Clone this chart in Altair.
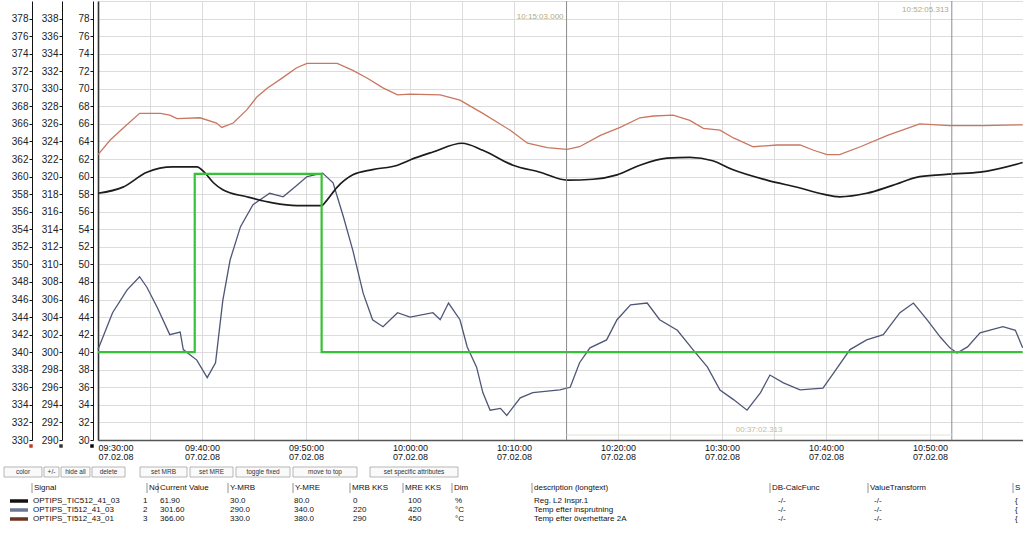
import altair as alt
import pandas as pd

FONT = "Liberation Sans"
BASE = pd.Timestamp("2008-02-07 09:30:00")

# ---------------- data (minutes after 09:30, values in own units) ----------------
# Signal 1: OPTIPS_TIC512_41_03 (%), black
BLACK_MIN = [0, 2.4, 4.7, 7.2, 9.5, 10.3, 11.1, 12.0, 14.3, 16.8, 19.1, 21.5, 22.0, 23.0, 24.5,
             26.4, 28.8, 30.0, 32.2, 35.0, 37.0, 39.9, 42.5, 45.1, 47.6, 49.9, 52.1, 54.7, 56.9,
             59.1, 61.0, 64.3, 67.5, 69.7, 71.3, 73.9, 76.4, 79.0, 82.2, 84.8, 88.9]
BLACK_VAL = [58.1, 58.8, 60.5, 61.1, 61.1, 60.4, 59.3, 58.5, 57.7, 57.0, 56.7, 56.7, 57.3, 58.8, 60.2,
             60.8, 61.3, 61.9, 62.8, 63.8, 63.0, 61.3, 60.5, 59.6, 59.7, 60.2, 61.3, 62.1, 62.2,
             61.8, 60.8, 59.6, 58.7, 58.0, 57.7, 58.1, 59.0, 60.0, 60.3, 60.5, 61.6]

# Signal 2: OPTIPS_TI512_41_03 (°C), blue-grey
BLUE_MIN = [0, 1.4, 2.8, 4.0, 4.7, 5.7, 6.9, 7.9, 8.2, 9.5, 10.5, 11.3, 12.0, 12.7, 13.7,
            14.9, 16.5, 17.8, 19.1, 20.1, 21.6, 22.6, 23.6, 24.5, 25.5, 26.4, 27.4, 28.8, 30.0,
            32.2, 32.9, 33.7, 34.8, 35.5, 36.4, 37.0, 37.7, 38.7, 39.3, 40.6, 41.8, 44.4, 45.4,
            46.3, 47.3, 48.9, 49.9, 51.2, 52.8, 54.0, 55.7, 57.2, 58.6, 59.8, 61.1, 62.4, 63.7,
            64.6, 65.9, 67.5, 69.7, 70.7, 72.3, 73.9, 75.5, 77.1, 78.4, 79.7, 81.0, 81.9, 82.6,
            83.6, 84.8, 87.0, 88.2, 88.9]
BLUE_VAL = [300.3, 304.5, 307.1, 308.6, 307.4, 305.1, 302.0, 302.3, 300.3, 299.1, 297.1, 298.8, 305.9, 310.5, 314.3,
            316.8, 318.1, 317.7, 319.0, 320.0, 320.4, 319.3, 315.4, 311.6, 306.7, 303.7, 302.9, 304.5, 304.0,
            304.5, 303.7, 305.6, 303.7, 300.6, 298.3, 295.4, 293.4, 293.6, 292.8, 294.8, 295.4, 295.7, 296.0,
            298.8, 300.5, 301.4, 303.7, 305.4, 305.6, 303.7, 302.5, 300.3, 298.3, 295.7, 294.6, 293.4, 295.4,
            297.4, 296.5, 295.7, 295.9, 297.6, 300.3, 301.4, 302.0, 304.5, 305.6, 303.7, 301.7, 300.5, 299.9,
            300.6, 302.2, 302.9, 302.5, 300.5]

# Signal 3: OPTIPS_TI512_43_01 (°C), brown-red
RED_MIN = [0, 1.2, 2.4, 4.0, 6.0, 6.9, 7.6, 9.8, 11.4, 11.9, 13.0, 14.3, 15.3, 16.3, 17.8,
           19.1, 20.1, 21.6, 23.0, 24.5, 25.9, 27.4, 28.8, 30.0, 32.9, 34.8, 37.0, 39.6, 41.3,
           43.2, 45.1, 46.3, 48.3, 50.2, 52.1, 53.4, 55.3, 56.9, 58.2, 59.8, 61.1, 63.0, 65.3,
           67.5, 68.8, 70.1, 71.3, 73.3, 75.9, 77.8, 79.0, 81.9, 85.1, 88.9]
RED_VAL = [362.5, 364.2, 365.5, 367.2, 367.2, 367.0, 366.6, 366.7, 366.1, 365.6, 366.1, 367.6, 369.1, 370.1, 371.3,
           372.4, 372.9, 372.9, 372.9, 372.1, 371.2, 370.1, 369.3, 369.4, 369.3, 368.7, 367.2, 365.3, 363.8,
           363.3, 363.1, 363.4, 364.7, 365.6, 366.7, 366.9, 367.0, 366.4, 365.5, 365.3, 364.4, 363.4, 363.6,
           363.6, 363.0, 362.5, 362.5, 363.4, 364.7, 365.5, 366.0, 365.8, 365.8, 365.9]

# Green step signal (% scale)
GREEN_MIN = [0, 9.3, 21.5, 88.9]
GREEN_VAL = [40.0, 60.3, 40.0, 40.0]

# Cursors
CURSOR_TIME = ["2008-02-07T10:15:03.000", "2008-02-07T10:52:05.313"]
CURSOR_LABEL = ["10:15:03.000", "10:52:05.313"]
CURSOR_DIFF = "00:37:02.313"

# Axis tick labels (per signal scale)
TICKS_PCT = list(range(30, 79, 2))
TICKS_T1 = list(range(290, 339, 2))
TICKS_T2 = list(range(330, 379, 2))
GRID_PCT = list(range(30, 81, 2))

# Signal table
HEADERS = ["Signal", "No", "Current Value", "Y-MRB", "Y-MRE", "MRB KKS", "MRE KKS", "Dim",
           "description (longtext)", "DB-CalcFunc", "ValueTransform", "S"]
SIGNAL = ["OPTIPS_TIC512_41_03", "OPTIPS_TI512_41_03", "OPTIPS_TI512_43_01"]
NO = ["1", "2", "3"]
CURRENT = ["61.90", "301.60", "366.00"]
YMRB = ["30.0", "290.0", "330.0"]
YMRE = ["80.0", "340.0", "380.0"]
MRB_KKS = ["0", "220", "290"]
MRE_KKS = ["100", "420", "450"]
DIM = ["%", "°C", "°C"]
DESC = ["Reg. L2 Inspr.1", "Temp efter insprutning", "Temp efter överhettare 2A"]
CALC = ["-/-", "-/-", "-/-"]
VTRANS = ["-/-", "-/-", "-/-"]
SCOL = ["{", "{", "{"]
BUTTONS = ["color", "+/-", "hide all", "delete", "set MRB", "set MRE", "toggle fixed",
           "move to top", "set specific attributes"]

# ---------------- layout / style ----------------
OX, OY = 98, 1            # plot origin on the page
PLOT_W, PLOT_H = 925, 439
GRID = "#dcdcdc"
C_BLACK, C_BLUE, C_RED, C_GREEN = "#1c1c1c", "#4e5676", "#c9775f", "#35c235"
SWATCH_COLORS = ["#111111", "#6a7893", "#6b3520"]
AXIS_MARK_COLORS = ["#c0392b", "#333333", "#000000"]

HEAD_X = [34, 149, 160, 230, 295, 352, 405, 454, 534, 772, 870, 1015]
SEP_X = [32, 147, 158, 228, 293, 350, 403, 452, 532, 770, 868, 1013]
ROW_X = [33, 143, 160, 230, 294, 353, 408, 455, 534, 778, 874, 1015]
HEAD_Y = 488
ROW_Y = [501, 510, 519]
BTN_X0 = [4, 44, 61, 92, 140, 190, 236, 293, 370]
BTN_X1 = [42, 59, 90, 125, 187, 233, 290, 357, 458]
BTN_Y0, BTN_Y1 = 467, 477
CURSOR_LABEL_Y = [17, 10]
AXIS_MARK_X = [31, 61, 92]
AXIS_MARK_Y = 446


def series(mins, vals):
    t = (BASE + pd.to_timedelta(mins, unit="min")).round("s")
    return pd.DataFrame({"t": t, "v": vals})


def dt(h, m, s=0):
    return alt.DateTime(year=2008, month=2, date=7, hours=h, minutes=m, seconds=s)


X_TICKS = [dt(9 + (30 + k) // 60, (30 + k) % 60) for k in range(0, 90, 5)]
X_SCALE = alt.Scale(domain=[dt(9, 30), dt(10, 58, 56)])
X_AXIS = alt.Axis(
    values=X_TICKS,
    labelExpr="minutes(datum.value) % 10 == 0 ? [timeFormat(datum.value, '%H:%M:%S'), timeFormat(datum.value, '%d.%m.%y')] : ''",
    grid=True, gridColor=GRID, ticks=False, domainColor="#555", domainWidth=1.6,
    labelFont=FONT, labelFontSize=9, labelColor="#111", labelPadding=3, labelLineHeight=9,
    labelOverlap=False, labelAngle=0, title=None)


def xenc():
    return alt.X("t:T", scale=X_SCALE, axis=X_AXIS)


def yaxis(offset, values):
    return alt.Axis(orient="left", offset=offset, values=values, grid=False, tickSize=3,
                    tickColor="#111", domainColor="#111", labelFont=FONT, labelFontSize=10,
                    labelColor="#222", labelPadding=1, labelOverlap=False, title=None, format="d")


red = alt.Chart(series(RED_MIN, RED_VAL)).mark_line(color=C_RED, strokeWidth=1.3).encode(
    x=xenc(),
    y=alt.Y("v:Q", scale=alt.Scale(domain=[330, 380], nice=False, zero=False), axis=yaxis(66, TICKS_T2)))

blue = alt.Chart(series(BLUE_MIN, BLUE_VAL)).mark_line(color=C_BLUE, strokeWidth=1.3).encode(
    x=xenc(),
    y=alt.Y("v:Q", scale=alt.Scale(domain=[290, 340], nice=False, zero=False), axis=yaxis(36, TICKS_T1)))

black = alt.Chart(series(BLACK_MIN, BLACK_VAL)).mark_line(color=C_BLACK, strokeWidth=1.7, interpolate="monotone").encode(
    x=xenc(),
    y=alt.Y("v:Q", scale=alt.Scale(domain=[30, 80], nice=False, zero=False), axis=yaxis(5, TICKS_PCT)))

green = alt.Chart(series(GREEN_MIN, GREEN_VAL)).mark_line(color=C_GREEN, strokeWidth=2.2, interpolate="step-after").encode(
    x=xenc(),
    y=alt.Y("v:Q", scale=alt.Scale(domain=[30, 80], nice=False, zero=False),
            axis=alt.Axis(orient="left", offset=0, values=GRID_PCT, grid=True, gridColor=GRID,
                          labels=False, ticks=False, domainColor="#333", domainWidth=1.6, title=None)))

cur_df = pd.DataFrame({"t": CURSOR_TIME, "lab": CURSOR_LABEL, "py": [y - OY for y in CURSOR_LABEL_Y]})
cursor_rules = alt.Chart(cur_df).mark_rule(color="#8c8c8c", strokeWidth=1).encode(
    x=xenc(), y=alt.value(0), y2=alt.value(PLOT_H))
cursor_text = alt.Chart(cur_df).mark_text(font=FONT, fontSize=8, color="#b3aa80", align="right", dx=-3,
                                          baseline="middle").encode(
    x=xenc(), y=alt.Y("py:Q", scale=None, axis=None), text="lab:N")

diff_df = pd.DataFrame({"t": [CURSOR_TIME[0]], "t2": [CURSOR_TIME[1]]})
diff_rule = alt.Chart(diff_df).mark_rule(color="#e2e2d6", strokeWidth=1).encode(
    x=xenc(), x2="t2:T", y=alt.value(435 - OY))
mid = pd.Timestamp(CURSOR_TIME[0]) + (pd.Timestamp(CURSOR_TIME[1]) - pd.Timestamp(CURSOR_TIME[0])) / 2
diff_text = alt.Chart(pd.DataFrame({"t": [mid.round("s")], "lab": [CURSOR_DIFF]})).mark_text(
    font=FONT, fontSize=8, color="#c2bb9c", baseline="middle").encode(
    x=xenc(), y=alt.value(430 - OY), text="lab:N")

# small coloured markers under each y axis
am_df = pd.DataFrame({"px": [x - OX for x in AXIS_MARK_X], "py": [AXIS_MARK_Y - OY] * 3, "c": AXIS_MARK_COLORS})
axis_marks = alt.Chart(am_df).mark_square(size=12, opacity=1).encode(
    x=alt.X("px:Q", scale=None, axis=None), y=alt.Y("py:Q", scale=None, axis=None),
    color=alt.Color("c:N", scale=None))


# ---------------- signal table below the plot ----------------
def cells(texts, xs, ys):
    return pd.DataFrame({"txt": texts, "px": [x - OX for x in xs], "py": [y - OY for y in ys]})


def text_layer(df, size, color="#111", align="left"):
    return alt.Chart(df).mark_text(font=FONT, fontSize=size, color=color, align=align, baseline="middle").encode(
        x=alt.X("px:Q", scale=None, axis=None), y=alt.Y("py:Q", scale=None, axis=None), text="txt:N")


btn_df = pd.DataFrame({"x0": [x - OX for x in BTN_X0], "x1": [x - OX for x in BTN_X1],
                       "y0": [BTN_Y0 - OY] * len(BUTTONS), "y1": [BTN_Y1 - OY] * len(BUTTONS)})
btn_boxes = alt.Chart(btn_df).mark_rect(fill="#fafafa", stroke="#9a9a9a", strokeWidth=0.7).encode(
    x=alt.X("x0:Q", scale=None, axis=None), x2="x1:Q",
    y=alt.Y("y0:Q", scale=None, axis=None), y2="y1:Q")
btn_text = text_layer(cells(BUTTONS, [(a + b) / 2 for a, b in zip(BTN_X0, BTN_X1)],
                            [(BTN_Y0 + BTN_Y1) / 2] * len(BUTTONS)), 6.5, "#333", "center")

sep_df = pd.DataFrame({"px": [x - OX for x in SEP_X], "y0": [HEAD_Y - 5 - OY] * len(SEP_X),
                       "y1": [HEAD_Y + 5 - OY] * len(SEP_X)})
seps = alt.Chart(sep_df).mark_rule(color="#777", strokeWidth=0.8).encode(
    x=alt.X("px:Q", scale=None, axis=None), y=alt.Y("y0:Q", scale=None, axis=None), y2="y1:Q")
head_text = text_layer(cells(HEADERS, HEAD_X, [HEAD_Y] * len(HEADERS)), 8, "#111")

row_txt, row_x, row_y = [], [], []
for i in range(len(SIGNAL)):
    vals = [SIGNAL[i], NO[i], CURRENT[i], YMRB[i], YMRE[i], MRB_KKS[i], MRE_KKS[i], DIM[i],
            DESC[i], CALC[i], VTRANS[i], SCOL[i]]
    row_txt += vals
    row_x += ROW_X
    row_y += [ROW_Y[i]] * len(vals)
rows_text = text_layer(cells(row_txt, row_x, row_y), 8, "#111")

sw_df = pd.DataFrame({"x0": [10 - OX] * 3, "x1": [28 - OX] * 3, "py": [y - OY for y in ROW_Y],
                      "c": SWATCH_COLORS})
swatches = alt.Chart(sw_df).mark_rule(strokeWidth=3.5).encode(
    x=alt.X("x0:Q", scale=None, axis=None), x2="x1:Q",
    y=alt.Y("py:Q", scale=None, axis=None), color=alt.Color("c:N", scale=None))

chart = alt.layer(
    red, blue, black, green, cursor_rules, cursor_text, diff_rule, diff_text, axis_marks,
    btn_boxes, btn_text, seps, head_text, rows_text, swatches
).resolve_scale(y="independent").properties(
    width=PLOT_W, height=PLOT_H,
    autosize=alt.AutoSizeParams(type="none"),
    padding={"left": OX, "top": OY, "right": 0, "bottom": 535 - OY - PLOT_H},
    background="white",
).configure_view(stroke=None)

chart.save("out.html", embed_options={"renderer": "svg", "actions": False})
